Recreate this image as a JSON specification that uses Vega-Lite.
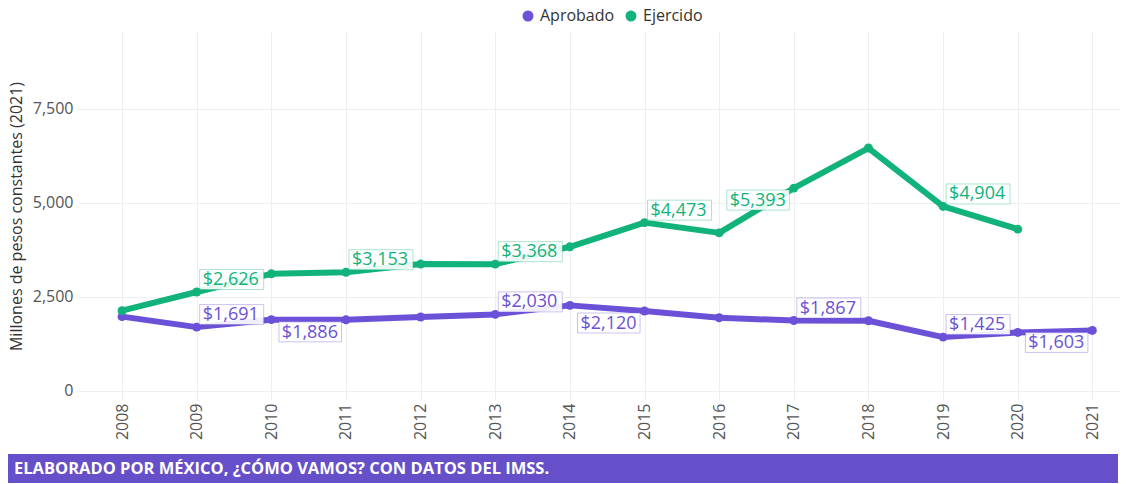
{
  "$schema": "https://vega.github.io/schema/vega-lite/v6.json",
  "background": "white",
  "padding": {"left": 8, "top": 8, "right": 5, "bottom": 0},
  "spacing": 14,
  "datasets": {
    "gasto": [
      {"anio": 2008, "serie": "Aprobado", "valor": 1970},
      {"anio": 2009, "serie": "Aprobado", "valor": 1691},
      {"anio": 2010, "serie": "Aprobado", "valor": 1890},
      {"anio": 2011, "serie": "Aprobado", "valor": 1886},
      {"anio": 2012, "serie": "Aprobado", "valor": 1960},
      {"anio": 2013, "serie": "Aprobado", "valor": 2030},
      {"anio": 2014, "serie": "Aprobado", "valor": 2270},
      {"anio": 2015, "serie": "Aprobado", "valor": 2120},
      {"anio": 2016, "serie": "Aprobado", "valor": 1940},
      {"anio": 2017, "serie": "Aprobado", "valor": 1867},
      {"anio": 2018, "serie": "Aprobado", "valor": 1860},
      {"anio": 2019, "serie": "Aprobado", "valor": 1425},
      {"anio": 2020, "serie": "Aprobado", "valor": 1550},
      {"anio": 2021, "serie": "Aprobado", "valor": 1603},
      {"anio": 2008, "serie": "Ejercido", "valor": 2130},
      {"anio": 2009, "serie": "Ejercido", "valor": 2626},
      {"anio": 2010, "serie": "Ejercido", "valor": 3110},
      {"anio": 2011, "serie": "Ejercido", "valor": 3153},
      {"anio": 2012, "serie": "Ejercido", "valor": 3370},
      {"anio": 2013, "serie": "Ejercido", "valor": 3368},
      {"anio": 2014, "serie": "Ejercido", "valor": 3830},
      {"anio": 2015, "serie": "Ejercido", "valor": 4473},
      {"anio": 2016, "serie": "Ejercido", "valor": 4200},
      {"anio": 2017, "serie": "Ejercido", "valor": 5393},
      {"anio": 2018, "serie": "Ejercido", "valor": 6460},
      {"anio": 2019, "serie": "Ejercido", "valor": 4904},
      {"anio": 2020, "serie": "Ejercido", "valor": 4300}
    ],
    "nota": [{"texto": "ELABORADO POR MÉXICO, ¿CÓMO VAMOS? CON DATOS DEL IMSS."}]
  },
  "vconcat": [
    {
      "width": 1042,
      "height": 368,
      "data": {"name": "gasto"},
      "encoding": {
        "x": {
          "field": "anio", "type": "quantitative",
          "scale": {"domain": [2007.41, 2021.37], "nice": false, "zero": false},
          "axis": {
            "title": null, "values": [2008,2009,2010,2011,2012,2013,2014,2015,2016,2017,2018,2019,2020,2021],
            "format": "d", "labelAngle": -90, "labelAlign": "right", "labelBaseline": "middle",
            "labelPadding": 3, "ticks": false, "domain": false, "grid": true,
            "gridColor": "#eeeeee", "labelFontSize": 16, "labelColor": "#555555", "labelFont": "Open Sans"
          }
        },
        "y": {
          "field": "valor", "type": "quantitative",
          "scale": {"domain": [-250, 9550], "nice": false, "zero": false},
          "axis": {
            "title": "Millones de pesos constantes (2021)", "values": [0, 2500, 5000, 7500],
            "format": ",.0f", "ticks": false, "domain": false, "grid": true, "gridColor": "#eeeeee",
            "labelFontSize": 16, "labelColor": "#555555", "labelFont": "Open Sans", "labelPadding": 5,
            "titleFontSize": 16, "titleFontWeight": "normal", "titleColor": "#333333", "titleFont": "Open Sans", "titlePadding": 8
          }
        },
        "color": {
          "field": "serie", "type": "nominal",
          "scale": {"domain": ["Aprobado", "Ejercido"], "range": ["#6B51D8", "#12B37A"]},
          "legend": {
            "title": null, "orient": "none", "direction": "horizontal", "legendX": 442, "legendY": -24,
            "symbolType": "circle", "symbolSize": 90,
            "labelFontSize": 16, "labelColor": "#333333", "labelFont": "Open Sans",
            "columnPadding": 8, "labelOffset": 4
          }
        }
      },
      "layer": [
        {"mark": {"type": "line", "strokeWidth": 6, "strokeJoin": "round"}},
        {"mark": {"type": "point", "filled": true, "size": 80, "opacity": 1}},
        {
          "transform": [{"filter": "(datum.serie == 'Ejercido' && indexof([2009, 2011, 2013, 2015, 2019], datum.anio) >= 0) || (datum.serie == 'Aprobado' && indexof([2009, 2013, 2017, 2019], datum.anio) >= 0)"}],
          "mark": {"type": "point", "shape": "M0.3,-2.25H6.7V-0.25H0.3Z", "size": 400, "filled": false, "fill": "white", "fillOpacity": 0.9, "strokeWidth": 1, "strokeOpacity": 0.35, "opacity": 1}
        },
        {
          "transform": [{"filter": "(datum.serie == 'Ejercido' && datum.anio == 2017) || (datum.serie == 'Aprobado' && indexof([2011, 2015, 2021], datum.anio) >= 0)"}],
          "mark": {"type": "point", "shape": "M-6.7,0.2H-0.45V2.2H-6.7Z", "size": 400, "filled": false, "fill": "white", "fillOpacity": 0.9, "strokeWidth": 1, "strokeOpacity": 0.35, "opacity": 1}
        },
        {
          "transform": [{"filter": "(datum.serie == 'Ejercido' && indexof([2009, 2011, 2013, 2015, 2019], datum.anio) >= 0) || (datum.serie == 'Aprobado' && indexof([2009, 2013, 2017, 2019], datum.anio) >= 0)"}],
          "mark": {"type": "text", "align": "left", "baseline": "alphabetic", "dx": 6, "dy": -7, "fontSize": 18, "font": "Open Sans"},
          "encoding": {"text": {"field": "valor", "type": "quantitative", "format": "$,.0f"}}
        },
        {
          "transform": [{"filter": "(datum.serie == 'Ejercido' && datum.anio == 2017) || (datum.serie == 'Aprobado' && indexof([2011, 2015, 2021], datum.anio) >= 0)"}],
          "mark": {"type": "text", "align": "right", "baseline": "alphabetic", "dx": -8, "dy": 18, "fontSize": 18, "font": "Open Sans"},
          "encoding": {"text": {"field": "valor", "type": "quantitative", "format": "$,.0f"}}
        }
      ]
    },
    {
      "width": 1040,
      "height": 29,
      "data": {"name": "nota"},
      "encoding": {
        "x": {"datum": 0, "type": "quantitative", "scale": {"domain": [0, 1], "range": [-70, 1040]}, "axis": null}
      },
      "layer": [
        {
          "mark": {"type": "rect", "color": "#6650C9"},
          "encoding": {"x2": {"datum": 1}}
        },
        {
          "mark": {"type": "text", "align": "left", "baseline": "middle", "dx": 6, "color": "white", "fontSize": 16.5, "fontWeight": "bold", "font": "Open Sans"},
          "encoding": {"text": {"field": "texto", "type": "nominal"}}
        }
      ]
    }
  ],
  "config": {
    "view": {"stroke": null}
  }
}
